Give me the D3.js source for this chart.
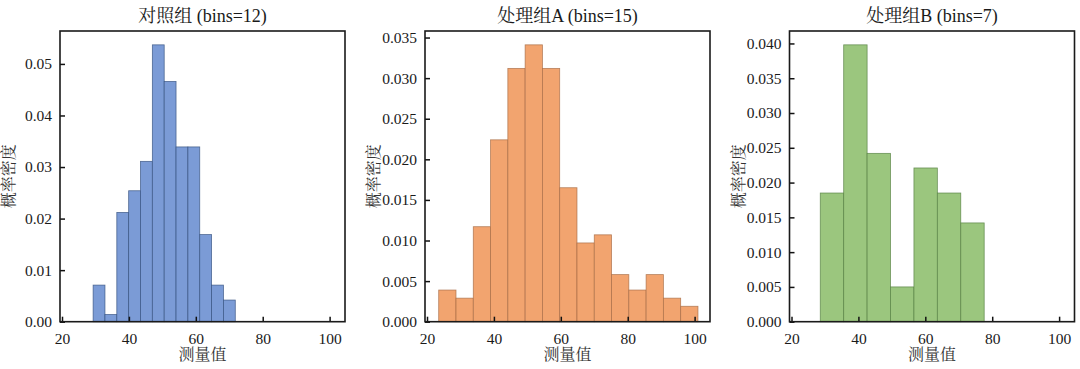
<!DOCTYPE html>
<html lang="zh-cn">
  <head>
    <meta charset="utf-8">
    <title>直方图 bins 对比</title>
    <script src="https://d3js.org/d3.v7.min.js"></script>
    <style>
      body { margin: 0; background: #fff; }
    </style>
  </head>
  <body>
    <svg></svg>
    <script>
    // 各组的分箱范围与概率密度
    const titles = ['对照组 (bins=12)', '处理组A (bins=15)', '处理组B (bins=7)']
    const binRange = [[29.3, 71.8], [23.5, 101.0], [28.6, 77.6]]
    const densControl = [0.0071, 0.0014, 0.0212, 0.0254, 0.0311, 0.0537, 0.0466, 0.0339, 0.0339, 0.0169, 0.0071, 0.0042]
    const densA = [0.0039, 0.0029, 0.0117, 0.0224, 0.0312, 0.0341, 0.0312, 0.0165, 0.0097, 0.0107, 0.0058, 0.0039, 0.0058, 0.0029, 0.0019]
    const densB = [0.0185, 0.0398, 0.0242, 0.0050, 0.0221, 0.0185, 0.0142]
    const yTicks = [
      [0, 0.01, 0.02, 0.03, 0.04, 0.05],
      [0, 0.005, 0.01, 0.015, 0.02, 0.025, 0.03, 0.035],
      [0, 0.005, 0.01, 0.015, 0.02, 0.025, 0.03, 0.035, 0.04]
    ]
    const yFormats = ['.2f', '.3f', '.3f']
    const xTicks = [20, 40, 60, 80, 100]
    const fills = ['#7b9bd6', '#f2a46f', '#9bc67e']
    const edges = ['#34507e', '#a66c45', '#557f41']

    const series = [densControl, densA, densB]
    const FONT = '"Liberation Serif", "Times New Roman", "Noto Serif CJK SC", "Noto Sans CJK SC", serif'

    const svg = d3.select('svg')
      .attr('width', 1080)
      .attr('height', 369)
      .style('font-family', FONT)

    const panelLeft = [60, 425, 789.5]
    const panelW = 285
    const plotTop = 31, plotBottom = 321.7

    // 三个子图共用 x 轴范围
    const x0 = d3.scaleLinear().domain([19.4, 104.6])

    series.forEach((dens, i) => {
      const x = x0.copy().range([panelLeft[i], panelLeft[i] + panelW])
      const ymax = d3.max(dens) * 1.05
      const y = d3.scaleLinear().domain([0, ymax]).range([plotBottom, plotTop])

      const [lo, hi] = binRange[i]
      const w = (hi - lo) / dens.length
      const bins = dens.map((d, k) => ({ x0: lo + k * w, x1: lo + (k + 1) * w, d }))

      const g = svg.append('g')

      g.selectAll('rect')
        .data(bins)
        .join('rect')
          .attr('x', b => x(b.x0))
          .attr('y', b => y(b.d))
          .attr('width', b => x(b.x1) - x(b.x0))
          .attr('height', b => y(0) - y(b.d))
          .attr('fill', fills[i])
          .attr('stroke', edges[i])
          .attr('stroke-opacity', 0.8)
          .attr('stroke-width', 0.8)

      // 坐标轴（刻度朝内）
      const xAxis = g.append('g')
        .attr('transform', `translate(0,${plotBottom})`)
        .call(d3.axisBottom(x).tickValues(xTicks).tickSizeInner(-5).tickSizeOuter(0).tickPadding(11))
      const yAxis = g.append('g')
        .attr('transform', `translate(${panelLeft[i]},0)`)
        .call(d3.axisLeft(y).tickValues(yTicks[i]).tickFormat(d3.format(yFormats[i])).tickSizeInner(-5).tickSizeOuter(0).tickPadding(8))

      for (const ax of [xAxis, yAxis]) {
        ax.attr('font-family', null).attr('font-size', null)
        ax.select('.domain').remove()
        ax.selectAll('.tick line').attr('stroke', '#111').attr('stroke-width', 1.5)
        ax.selectAll('.tick text')
          .style('font-family', FONT)
          .style('font-size', '15.5px')
          .attr('fill', '#1a1a1a')
      }

      // 边框
      g.append('rect')
        .attr('x', panelLeft[i])
        .attr('y', plotTop)
        .attr('width', panelW)
        .attr('height', plotBottom - plotTop)
        .attr('fill', 'none')
        .attr('stroke', '#1a1a1a')
        .attr('stroke-width', 1.6)

      g.append('text')
        .attr('x', panelLeft[i] + panelW / 2)
        .attr('y', 22)
        .attr('text-anchor', 'middle')
        .attr('fill', '#1a1a1a')
        .style('font-size', '18px')
        .text(titles[i])

      g.append('text')
        .attr('x', panelLeft[i] + panelW / 2)
        .attr('y', 360)
        .attr('text-anchor', 'middle')
        .attr('fill', '#333')
        .style('font-size', '16px')
        .text('测量值')

      g.append('text')
        .attr('transform', `translate(${panelLeft[i] - 46},${(plotTop + plotBottom) / 2}) rotate(-90)`)
        .attr('text-anchor', 'middle')
        .attr('fill', '#333')
        .style('font-size', '16px')
        .text('概率密度')
    })
  </script>
  </body>
</html>
